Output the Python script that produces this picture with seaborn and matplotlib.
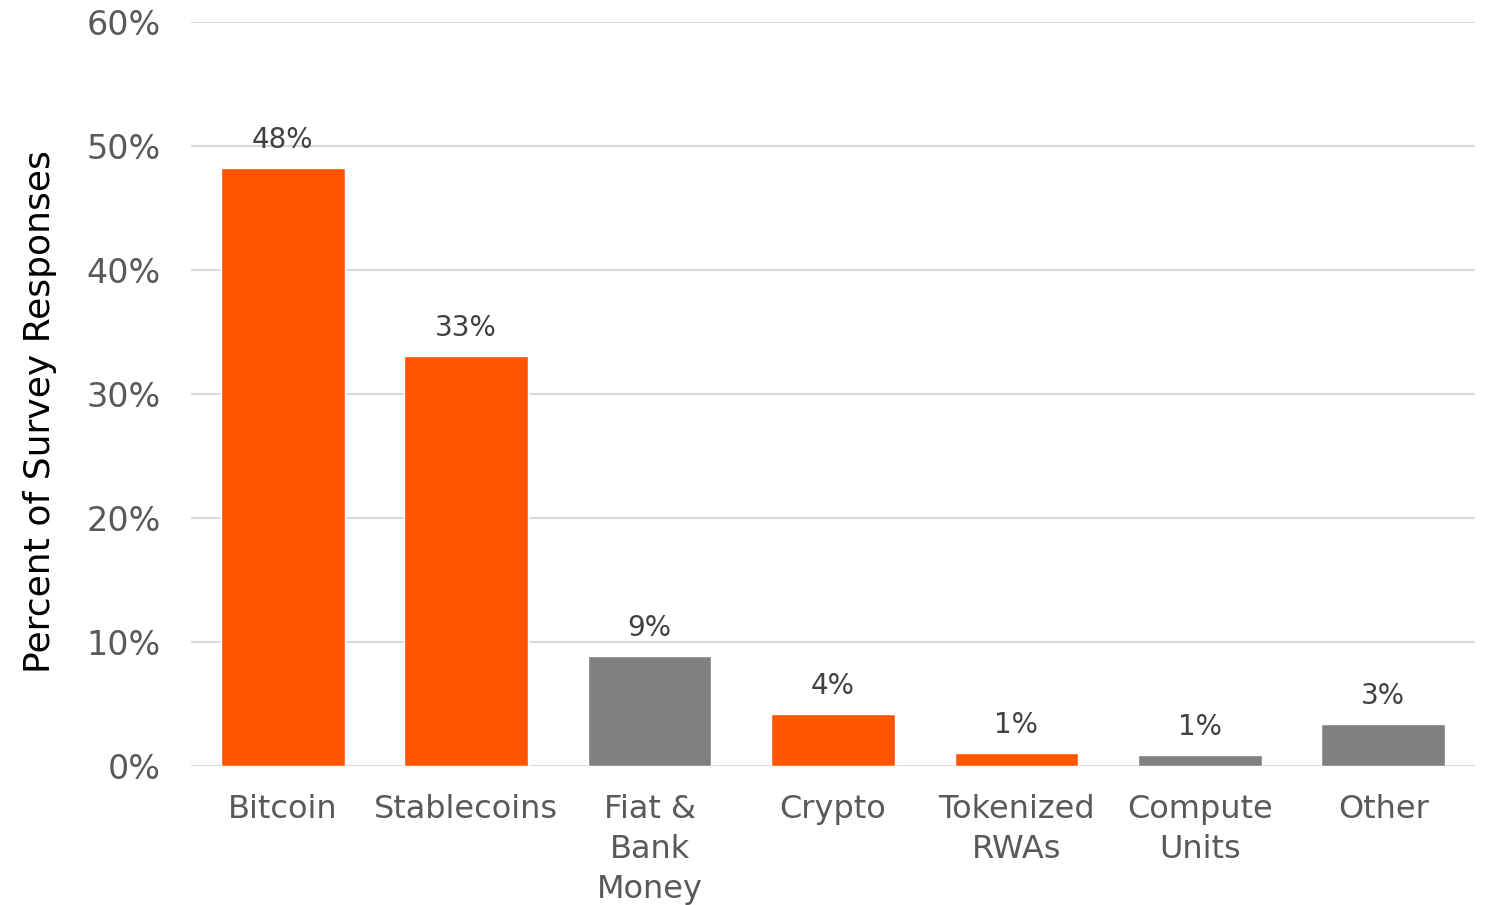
import matplotlib
matplotlib.use("Agg")
import matplotlib.pyplot as plt
import seaborn as sns
import pandas as pd
from matplotlib.ticker import PercentFormatter

# Survey responses by asset type
categories = ["Bitcoin", "Stablecoins", "Fiat &\nBank\nMoney", "Crypto",
              "Tokenized\nRWAs", "Compute\nUnits", "Other"]
values = [48.2, 33.1, 8.9, 4.2, 1.05, 0.9, 3.4]
labels = ["48%", "33%", "9%", "4%", "1%", "1%", "3%"]
highlight = [True, True, False, True, True, False, False]

orange = "#FF5500"
grey = "#808080"

df = pd.DataFrame({"category": categories, "value": values})
palette = [orange if h else grey for h in highlight]

sns.set_style("white")
plt.rcParams["font.family"] = ["DejaVu Sans"]

fig = plt.figure(figsize=(14.89, 9.05), dpi=100)
ax = fig.add_axes([191 / 1489, 1 - 766 / 905, (1475 - 191) / 1489, (766 - 22) / 905])

sns.barplot(data=df, x="category", y="value", hue="category", palette=palette,
            legend=False, width=0.675, saturation=1, ax=ax, zorder=3)

for container, lab in zip(ax.containers, labels):
    ax.bar_label(container, labels=[lab], padding=10, fontsize=20, color="#404040")

ax.set_ylim(0, 60)
ax.set_yticks(range(0, 61, 10))
ax.yaxis.set_major_formatter(PercentFormatter(decimals=0))
ax.grid(axis="y", color="#d9d9d9", linewidth=1.5, zorder=0)
ax.set_axisbelow(True)
for s in ax.spines.values():
    s.set_visible(False)

ax.tick_params(axis="y", labelsize=24, labelcolor="#595959", length=0, pad=22)
ax.tick_params(axis="x", labelsize=23, labelcolor="#595959", length=0, pad=20)
for t in ax.get_xticklabels():
    t.set_linespacing(1.37)
ax.set_xlabel("")
ax.set_ylabel("Percent of Survey Responses", fontsize=26, color="black")
ax.yaxis.set_label_coords(-0.104, 0.476)

fig.savefig("out.png", dpi=100)
